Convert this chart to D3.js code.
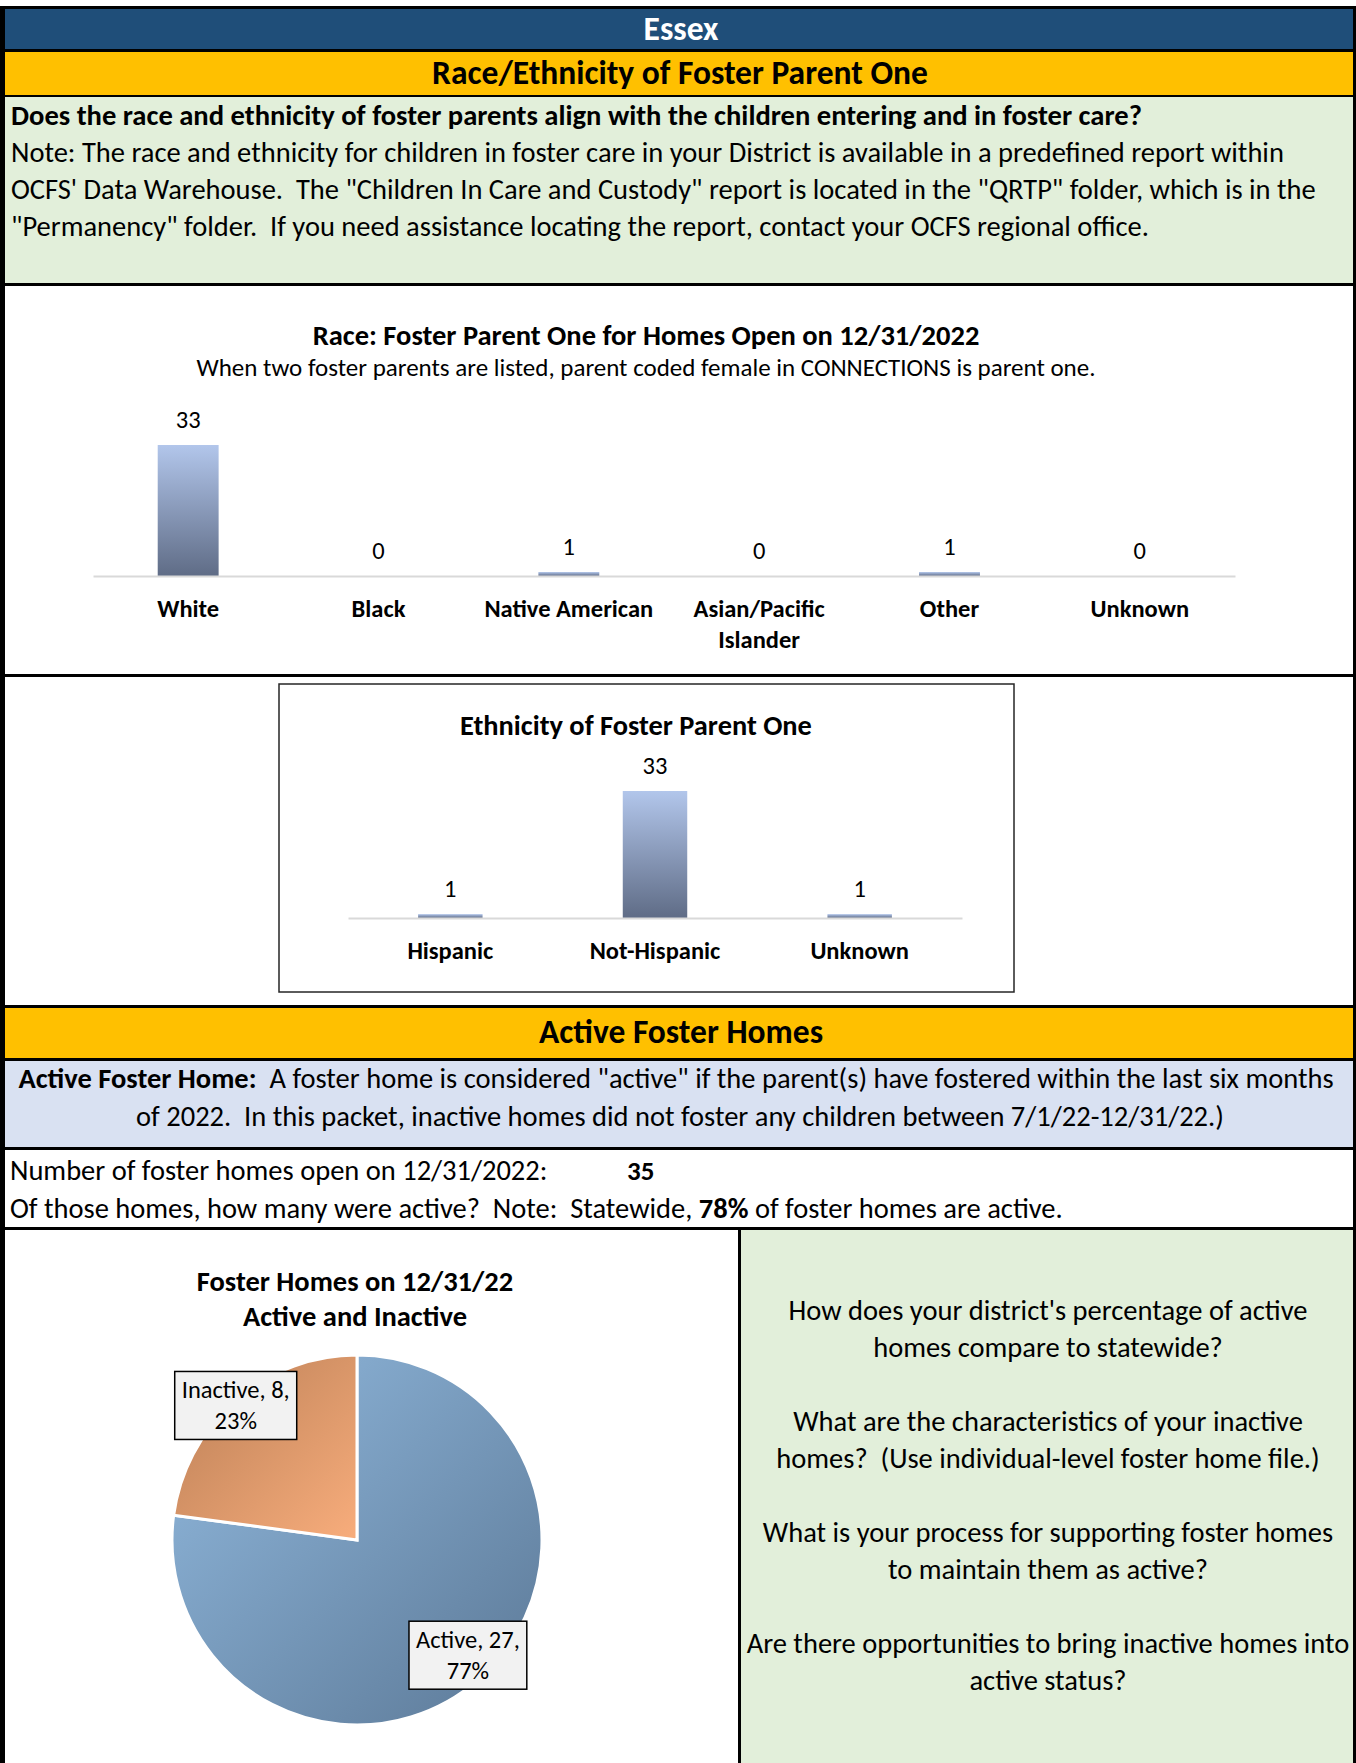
<!DOCTYPE html>
<html>
<head>
<meta charset="utf-8">
<script src="https://cdn.jsdelivr.net/npm/d3@7"></script>
<style>
  body { margin: 0; background: #fff; }
  svg { display: block; font-family: Carlito, Calibri, Lato, sans-serif; }
</style>
</head>
<body>
<div id="page"></div>
<script>
// ---- data ----
var districtName = "Essex";
var raceCategories = ["White", "Black", "Native American", "Asian/Pacific Islander", "Other", "Unknown"];
var raceCounts = [33, 0, 1, 0, 1, 0];
var ethnicityCategories = ["Hispanic", "Not-Hispanic", "Unknown"];
var ethnicityCounts = [1, 33, 1];
var homeStatus = ["Active", "Inactive"];
var homeCounts = [27, 8];
var homesOpen = 35;
var statewideActivePct = 78;
var reflectionQuestions = [
  ["How does your district's percentage of active", "homes compare to statewide?"],
  ["What are the characteristics of your inactive", "homes?  (Use individual-level foster home file.)"],
  ["What is your process for supporting foster homes", "to maintain them as active?"],
  ["Are there opportunities to bring inactive homes into", "active status?"]
];

var W = 1356, H = 1763;
var svg = d3.select("#page").append("svg").attr("width", W).attr("height", H);

var defs = svg.append("defs");
function linGrad(id, x2, y2, c0, c1) {
  var g = defs.append("linearGradient").attr("id", id)
    .attr("x1", 0).attr("y1", 0).attr("x2", x2).attr("y2", y2);
  g.append("stop").attr("offset", "0%").attr("stop-color", c0);
  g.append("stop").attr("offset", "100%").attr("stop-color", c1);
}
linGrad("barGrad", 0, 1, "#b2c6eb", "#5f6c86");
linGrad("activeGrad", 1, 1, "#92badf", "#5b7896");
linGrad("inactiveGrad", 1, 1, "#b97e55", "#f8ad7c");

function txt(g, x, y, str, size, opt) {
  opt = opt || {};
  return g.append("text")
    .attr("x", x).attr("y", y)
    .attr("text-anchor", opt.anchor || "start")
    .attr("xml:space", "preserve")
    .style("font-size", size + "px")
    .style("font-weight", opt.bold ? "bold" : "normal")
    .style("fill", opt.fill || "#000")
    .text(str);
}

// ---- page bands ----
var bands = [
  {y0: 9, y1: 49, fill: "#1f4e79"},
  {y0: 52, y1: 95, fill: "#ffc000"},
  {y0: 97, y1: 283, fill: "#e2efda"},
  {y0: 1008, y1: 1058, fill: "#ffc000"},
  {y0: 1061, y1: 1147, fill: "#d9e1f2"}
];
svg.append("g").selectAll("rect").data(bands).enter().append("rect")
  .attr("x", 0).attr("width", W)
  .attr("y", function(d) { return d.y0; })
  .attr("height", function(d) { return d.y1 - d.y0; })
  .attr("fill", function(d) { return d.fill; });
svg.append("rect").attr("x", 741).attr("y", 1230).attr("width", W - 741).attr("height", H - 1230).attr("fill", "#e2efda");

// black rules
var rules = [[6, 9], [49, 52], [95, 97], [283, 286], [674, 677], [1005, 1008], [1058, 1061], [1147, 1150], [1227, 1230]];
svg.append("g").selectAll("rect").data(rules).enter().append("rect")
  .attr("x", 0).attr("width", W)
  .attr("y", function(d) { return d[0]; })
  .attr("height", function(d) { return d[1] - d[0]; })
  .attr("fill", "#000");
svg.append("rect").attr("x", 0).attr("y", 6).attr("width", 5).attr("height", H - 6).attr("fill", "#000");
svg.append("rect").attr("x", W - 3).attr("y", 6).attr("width", 3).attr("height", H - 6).attr("fill", "#000");
svg.append("rect").attr("x", 738).attr("y", 1228).attr("width", 3).attr("height", H - 1228).attr("fill", "#000");

// ---- header text ----
var head = svg.append("g");
txt(head, 681, 40, districtName, 33.5, {anchor: "middle", bold: true, fill: "#fff"});
txt(head, 680, 84, "Race/Ethnicity of Foster Parent One", 33.5, {anchor: "middle", bold: true});
txt(head, 11, 125, "Does the race and ethnicity of foster parents align with the children entering and in foster care?", 28.6, {bold: true});
txt(head, 11, 162, "Note: The race and ethnicity for children in foster care in your District is available in a predefined report within", 28.5);
txt(head, 11, 199, "OCFS' Data Warehouse.  The \"Children In Care and Custody\" report is located in the \"QRTP\" folder, which is in the", 28.5);
txt(head, 11, 236, "\"Permanency\" folder.  If you need assistance locating the report, contact your OCFS regional office.", 28.5);

// ---- bar chart helper ----
function barChart(g, cats, vals, o) {
  var x = d3.scaleBand().domain(cats).range([o.x0, o.x1]);
  var y = d3.scaleLinear().domain([0, d3.max(vals)]).range([o.base, o.top]);
  var bw = x.bandwidth() * o.barFrac;
  var rows = cats.map(function(c, i) { return {cat: c, val: vals[i]}; });

  g.append("g").selectAll("rect").data(rows).enter().append("rect")
    .attr("x", function(d) { return x(d.cat) + (x.bandwidth() - bw) / 2; })
    .attr("width", bw)
    .attr("y", function(d) { return y(d.val); })
    .attr("height", function(d) { return y(0) - y(d.val); })
    .attr("fill", "url(#barGrad)");

  g.append("g").attr("transform", "translate(0," + o.base + ")")
    .call(d3.axisBottom(x).tickSize(0).tickSizeOuter(0).tickFormat(""))
    .call(function(a) { a.select(".domain").attr("stroke", "#d9d9d9").attr("stroke-width", 2); });

  g.append("g").selectAll("text").data(rows).enter().append("text")
    .attr("x", function(d) { return x(d.cat) + x.bandwidth() / 2; })
    .attr("y", function(d) { return y(d.val) - 17; })
    .attr("text-anchor", "middle")
    .style("font-size", o.valSize + "px")
    .text(function(d) { return d.val; });

  // category labels, wrapped to the band width
  var lab = g.append("g").selectAll("text").data(rows).enter().append("text")
    .attr("text-anchor", "middle")
    .style("font-size", o.labSize + "px").style("font-weight", "bold");
  lab.each(function(d) {
    var t = d3.select(this), words = d.cat.split(" "), line = [], lines = [];
    var probe = t.append("tspan");
    words.forEach(function(w) {
      probe.text(line.concat([w]).join(" "));
      if (line.length && probe.node().getComputedTextLength() > x.bandwidth()) {
        lines.push(line.join(" "));
        line = [w];
      } else line.push(w);
    });
    lines.push(line.join(" "));
    probe.remove();
    lines.forEach(function(l, i) {
      t.append("tspan").attr("x", x(d.cat) + x.bandwidth() / 2)
        .attr("y", o.labY + i * 31).text(l);
    });
  });
}

// race chart
var race = svg.append("g");
txt(race, 646, 345, "Race: Foster Parent One for Homes Open on 12/31/2022", 28.5, {anchor: "middle", bold: true});
txt(race, 646, 376, "When two foster parents are listed, parent coded female in CONNECTIONS is parent one.", 25, {anchor: "middle"});
barChart(race, raceCategories, raceCounts, {x0: 93, x1: 1235, base: 576, top: 445, barFrac: 0.32, valSize: 24.5, labSize: 24.5, labY: 617});

// ethnicity chart
var eth = svg.append("g");
eth.append("rect").attr("x", 279).attr("y", 684).attr("width", 735).attr("height", 308)
  .attr("fill", "#fff").attr("stroke", "#262626").attr("stroke-width", 1.5);
txt(eth, 636, 735, "Ethnicity of Foster Parent One", 28.4, {anchor: "middle", bold: true});
barChart(eth, ethnicityCategories, ethnicityCounts, {x0: 348, x1: 962, base: 918, top: 791, barFrac: 0.315, valSize: 24.5, labSize: 24.5, labY: 959});

// ---- active homes section ----
var act = svg.append("g");
txt(act, 681, 1043, "Active Foster Homes", 33.5, {anchor: "middle", bold: true});
var def1 = act.append("text").attr("x", 676).attr("y", 1088).attr("text-anchor", "middle")
  .attr("xml:space", "preserve").style("font-size", "28.5px");
def1.append("tspan").style("font-weight", "bold").text("Active Foster Home:");
def1.append("tspan").text("  A foster home is considered \"active\" if the parent(s) have fostered within the last six months");
txt(act, 680, 1126, "of 2022.  In this packet, inactive homes did not foster any children between 7/1/22-12/31/22.)", 28.5, {anchor: "middle"});

txt(act, 10, 1180, "Number of foster homes open on 12/31/2022:", 28.5);
txt(act, 627, 1180, homesOpen, 27, {bold: true});
var ofThose = act.append("text").attr("x", 10).attr("y", 1218).attr("xml:space", "preserve").style("font-size", "28.5px");
ofThose.append("tspan").text("Of those homes, how many were active?  Note:  Statewide, ");
ofThose.append("tspan").style("font-weight", "bold").text(statewideActivePct + "%");
ofThose.append("tspan").text(" of foster homes are active.");

// ---- pie ----
var pieG = svg.append("g");
txt(pieG, 355, 1291, "Foster Homes on 12/31/22", 28.5, {anchor: "middle", bold: true});
txt(pieG, 355, 1326, "Active and Inactive", 28.5, {anchor: "middle", bold: true});

var total = d3.sum(homeCounts);
var pieRows = homeStatus.map(function(s, i) { return {status: s, count: homeCounts[i]}; });
var pie = d3.pie().sort(null).value(function(d) { return d.count; });
var r = 185, cx = 357, cy = 1540;
var arc = d3.arc().innerRadius(0).outerRadius(r);
var slices = pie(pieRows);
var gp = pieG.append("g").attr("transform", "translate(" + cx + "," + cy + ")");
gp.selectAll("path").data(slices).enter().append("path")
  .attr("d", arc)
  .attr("fill", function(d) { return d.data.status === "Active" ? "url(#activeGrad)" : "url(#inactiveGrad)"; })
  .attr("stroke", "#fff").attr("stroke-width", 3).attr("stroke-linejoin", "miter");

// data labels sit near the slice centroid, nudged like Excel's best-fit placement
var labelPos = {Active: {k: 0.87, dx: 5, dy: -6}, Inactive: {k: 0.98, dx: -2, dy: 2}};
slices.forEach(function(s) {
  var p = labelPos[s.data.status], k = p.k * r;
  var c = d3.arc().innerRadius(k).outerRadius(k).centroid(s);
  var pct = Math.round(s.data.count / total * 100);
  var lg = gp.append("g").attr("transform", "translate(" + (c[0] + p.dx) + "," + (c[1] + p.dy) + ")");
  var box = lg.append("rect").attr("fill", "#f2f2f2").attr("stroke", "#000").attr("stroke-width", 1.5);
  var t1 = txt(lg, 0, -7, s.data.status + ", " + s.data.count + ",", 24.5, {anchor: "middle"});
  var t2 = txt(lg, 0, 24, pct + "%", 24.5, {anchor: "middle"});
  var wdt = Math.max(t1.node().getComputedTextLength(), t2.node().getComputedTextLength()) + 14;
  box.attr("x", -wdt / 2).attr("y", -34).attr("width", wdt).attr("height", 68);
});

// ---- reflection questions ----
var q = svg.append("g");
reflectionQuestions.forEach(function(lines, i) {
  lines.forEach(function(l, j) {
    txt(q, 1048, 1320 + i * 111 + j * 37, l, 28.5, {anchor: "middle"});
  });
});
</script>
</body>
</html>
